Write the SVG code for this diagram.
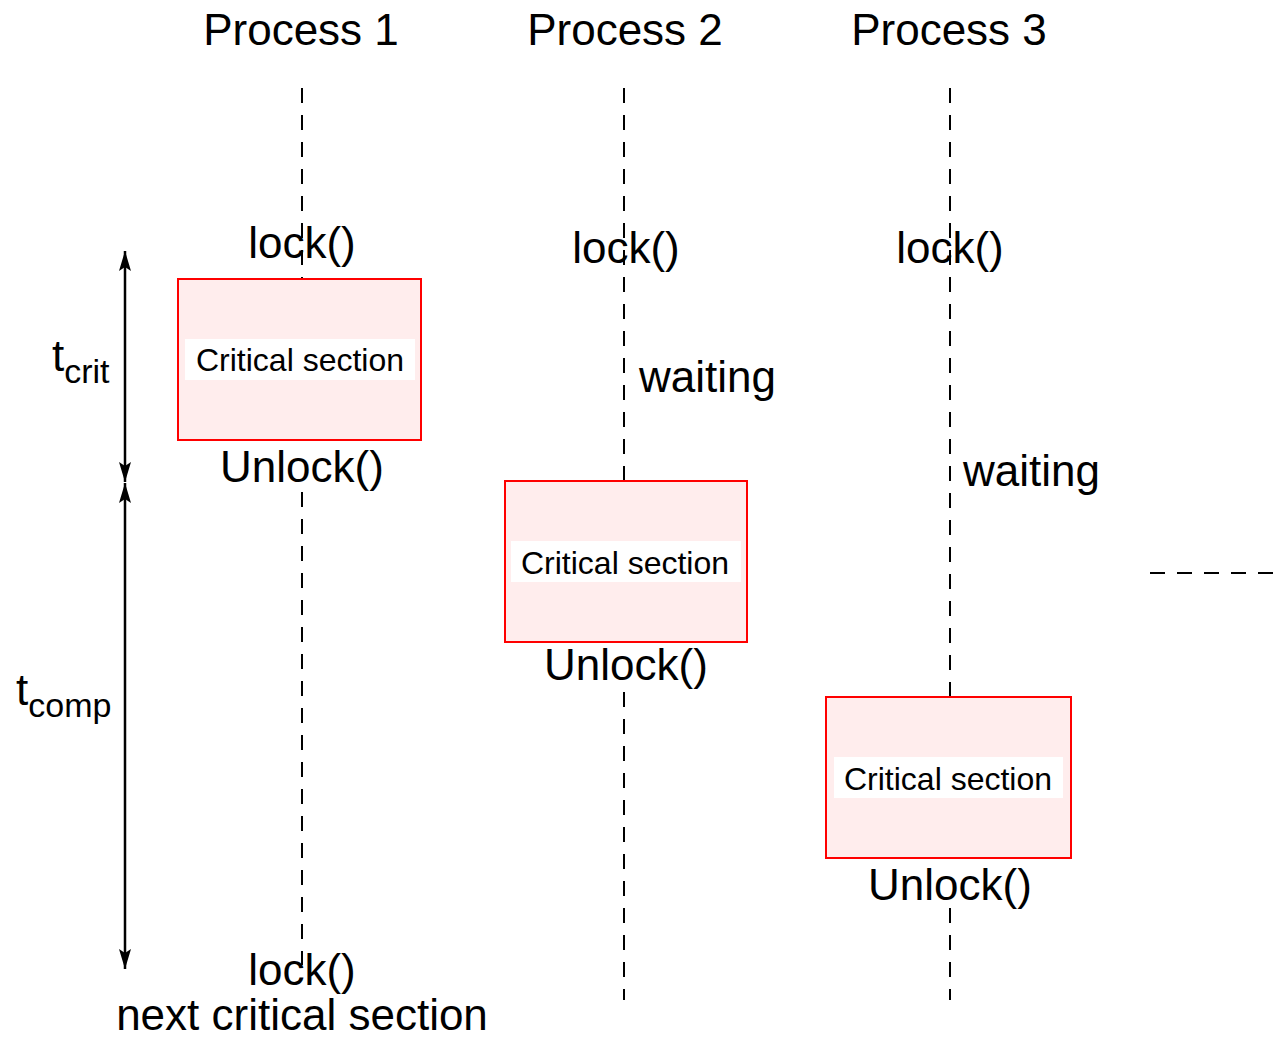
<svg xmlns="http://www.w3.org/2000/svg" width="1281" height="1037" viewBox="0 0 1281 1037">
<style>
text{font-family:"Liberation Sans",Arial,sans-serif;fill:#000}
.big{font-size:44px}
.cs{font-size:32px}
.sub{font-size:34px}
.life{stroke:#000;stroke-width:2;stroke-dasharray:15 12;fill:none}
.box{fill:#ffeded;stroke:#ff0000;stroke-width:2}
.lbl{fill:#fff}
.dim{stroke:#000;stroke-width:2.5;fill:none;marker-start:url(#ah);marker-end:url(#ah)}
</style>
<defs>
<marker id="ah" viewBox="0 0 20 14" refX="20" refY="7" markerWidth="20" markerHeight="14" orient="auto-start-reverse" markerUnits="userSpaceOnUse">
<path d="M0,1 L20,7 L0,13 L4,7 z" fill="#000"/>
</marker>
</defs>
<rect width="1281" height="1037" fill="#fff"/>
<g id="connectors">
<line class="life" x1="302" y1="88" x2="302" y2="278"/>
<line class="life" x1="302" y1="492" x2="302" y2="965"/>
<line class="life" x1="624" y1="88" x2="624" y2="480"/>
<line class="life" x1="624" y1="692" x2="624" y2="1000"/>
<line class="life" x1="950" y1="88" x2="950" y2="697"/>
<line class="life" x1="950" y1="908" x2="950" y2="1000"/>
<line class="life" x1="1150" y1="573" x2="1281" y2="573"/>
<line class="dim" x1="125" y1="251" x2="125" y2="482"/>
<line class="dim" x1="125" y1="483" x2="125" y2="969"/>
</g>
<g id="p1-title"><text class="big" x="301" y="45" text-anchor="middle">Process 1</text></g>
<g id="p2-title"><text class="big" x="625" y="45" text-anchor="middle">Process 2</text></g>
<g id="p3-title"><text class="big" x="949" y="45" text-anchor="middle">Process 3</text></g>
<g id="p1-lock"><text class="big" x="302" y="258" text-anchor="middle">lock()</text></g>
<g id="p2-lock"><text class="big" x="626" y="263" text-anchor="middle">lock()</text></g>
<g id="p3-lock"><text class="big" x="950" y="263" text-anchor="middle">lock()</text></g>
<g id="p1-cs">
<rect class="box" x="178" y="279" width="243" height="161"/>
<rect class="lbl" x="185" y="339" width="230" height="41"/>
<text class="cs" x="300" y="371" text-anchor="middle">Critical section</text>
</g>
<g id="p2-cs">
<rect class="box" x="505" y="481" width="242" height="161"/>
<rect class="lbl" x="511" y="541" width="230" height="41"/>
<text class="cs" x="625" y="574" text-anchor="middle">Critical section</text>
</g>
<g id="p3-cs">
<rect class="box" x="826" y="697" width="245" height="161"/>
<rect class="lbl" x="834" y="757" width="229" height="41"/>
<text class="cs" x="948" y="790" text-anchor="middle">Critical section</text>
</g>
<g id="p1-unlock"><text class="big" x="302" y="482" text-anchor="middle">Unlock()</text></g>
<g id="p2-unlock"><text class="big" x="626" y="680" text-anchor="middle">Unlock()</text></g>
<g id="p3-unlock"><text class="big" x="950" y="900" text-anchor="middle">Unlock()</text></g>
<g id="p2-waiting"><text class="big" x="639" y="392">waiting</text></g>
<g id="p3-waiting"><text class="big" x="963" y="486">waiting</text></g>
<g id="tcrit"><text class="big" x="52" y="371">t<tspan class="sub" dy="12">crit</tspan></text></g>
<g id="tcomp"><text class="big" x="16" y="705">t<tspan class="sub" dy="12">comp</tspan></text></g>
<g id="next-lock"><text class="big" x="302" y="985" text-anchor="middle">lock()</text></g>
<g id="next-cs"><text class="big" x="302" y="1030" text-anchor="middle">next critical section</text></g>
</svg>
